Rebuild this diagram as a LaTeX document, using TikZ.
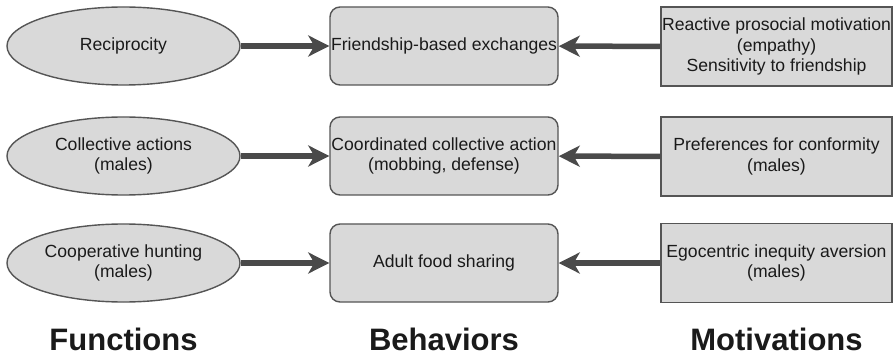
\documentclass[tikz,border=0pt]{standalone}
\usepackage{fontspec}
\setmainfont{Liberation Sans}
\usetikzlibrary{arrows.meta,shapes.geometric}
\definecolor{boxfill}{HTML}{D9D9D9}
\definecolor{edge}{HTML}{555555}
\definecolor{arrowc}{HTML}{4A4A4A}
\definecolor{ink}{HTML}{1A1A1A}
\begin{document}
\begin{tikzpicture}[x=1pt,y=-1pt,
  box/.style={draw=edge, fill=boxfill, line width=1.4pt, text=ink,
    font=\fontsize{17.6pt}{20.5pt}\selectfont, align=center, inner sep=0pt},
  func/.style={box, ellipse, minimum width=233pt, minimum height=78pt},
  behav/.style={box, rectangle, rounded corners=10pt, minimum width=228pt, minimum height=78pt},
  motiv/.style={box, rectangle, minimum width=231pt, minimum height=79pt},
  link/.style={draw=arrowc, line width=5.5pt,
    -{Stealth[length=21pt, width=21pt, inset=6pt]}},
  heading/.style={font=\fontsize{31pt}{36pt}\selectfont\bfseries, text=ink, anchor=base}
]
\fill[white] (0,0) rectangle (893,363);
\path[use as bounding box] (0,0) rectangle (893,363);

% functions
\node[func] (f1) at (123.5,46) {Reciprocity};
\node[func] (f2) at (123.5,156) {Collective actions\\(males)};
\node[func] (f3) at (123.5,263) {Cooperative hunting\\(males)};

% behaviors
\node[behav] (b1) at (444,46) {Friendship-based exchanges};
\node[behav] (b2) at (444,156) {Coordinated collective action\\(mobbing, defense)};
\node[behav] (b3) at (444,263) {Adult food sharing};

% motivations
\node[motiv] (m1) at (776.5,46.5) {Reactive prosocial motivation\\(empathy)\\Sensitivity to friendship};
\node[motiv] (m2) at (776.5,156.5) {Preferences for conformity\\(males)};
\node[motiv] (m3) at (776.5,263) {Egocentric inequity aversion\\(males)};

% connectors
\draw[link] (f1) -- (b1);
\draw[link] (f2) -- (b2);
\draw[link] (f3) -- (b3);
\draw[link] (m1) -- (b1);
\draw[link] (m2) -- (b2);
\draw[link] (m3) -- (b3);

% column headings
\node[heading] (hf) at (123.5,350) {Functions};
\node[heading] (hb) at (444,350) {Behaviors};
\node[heading] (hm) at (776.5,350) {Motivations};
\end{tikzpicture}
\end{document}
